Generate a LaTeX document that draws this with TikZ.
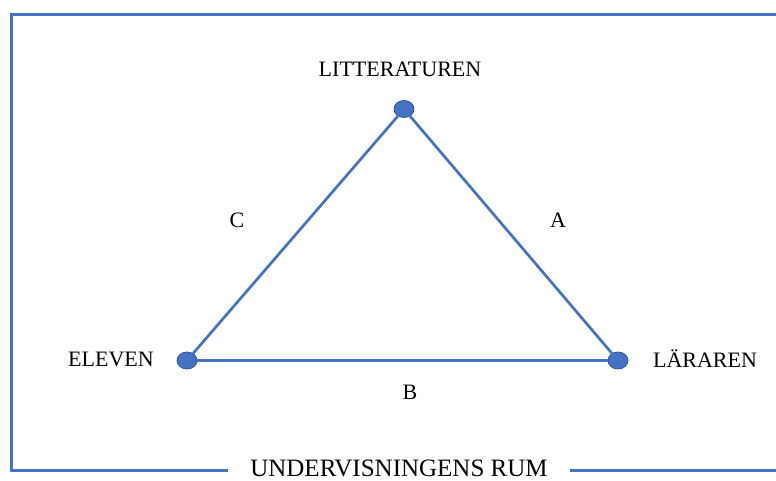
\documentclass[tikz,border=0pt]{standalone}
\usepackage{fontspec}
\setmainfont{Liberation Serif}
\usetikzlibrary{shapes.geometric}
\definecolor{wblue}{HTML}{4472C4}
\definecolor{wdark}{HTML}{2F5597}
\tikzset{
  frame/.style={draw=wblue, line width=3pt},
  edge/.style={draw=wblue, line width=2.7pt},
  dot/.style={ellipse, fill=wblue, draw=wdark, line width=0.8pt, minimum width=20pt, minimum height=17pt, inner sep=0pt},
  lbl/.style={font=\fontsize{22}{26}\selectfont, inner sep=0pt, text=black},
  title/.style={font=\fontsize{25}{30}\selectfont, inner sep=0pt, text=black}
}
\begin{document}
\begin{tikzpicture}[x=1pt, y=-1pt]
\useasboundingbox (0,0) rectangle (776,480);
\clip (0,0) rectangle (776,480);
% frame
\coordinate (f1) at (228,470);
\coordinate (f2) at (11,470);
\coordinate (f3) at (11,14.5);
\coordinate (f4) at (790,14.5);
\coordinate (f5) at (570,470);
\coordinate (f6) at (790,470);
\draw[frame] (f1) -- (f2) -- (f3) -- (f4);
\draw[frame] (f5) -- (f6);
\node[title] (rum) at (399,468) {UNDERVISNINGENS RUM};
% dots
\node[dot] (top) at (404,109) {};
\node[dot] (left) at (187,360.5) {};
\node[dot] (right) at (618,360.5) {};
\draw[edge] (top) -- (left);
\draw[edge] (top) -- (right);
\draw[edge] (left) -- (right);
% labels
\node[lbl] (lit) at (400,69) {LITTERATUREN};
\node[lbl] (elev) at (111,359) {ELEVEN};
\node[lbl] (lar) at (705,359) {LÄRAREN};
\node[lbl] (c) at (237,220) {C};
\node[lbl] (a) at (558,220) {A};
\node[lbl] (b) at (410,392) {B};
\end{tikzpicture}
\end{document}
